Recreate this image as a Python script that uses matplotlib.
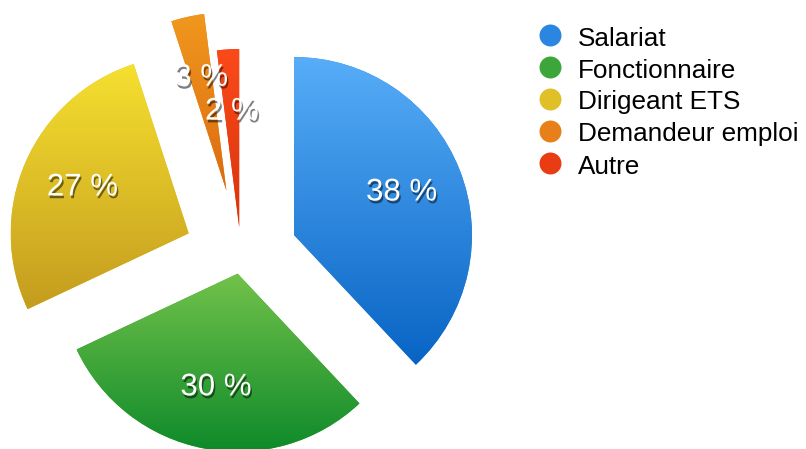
import numpy as np
import matplotlib
matplotlib.use('Agg')
import matplotlib.pyplot as plt
import matplotlib.patheffects as pe
from matplotlib.colors import to_rgb

# data
labels = ['Salariat', 'Fonctionnaire', 'Dirigeant ETS', 'Demandeur emploi', 'Autre']
values = [38, 30, 27, 3, 2]

# gradient colours per slice (top, bottom)
top_colors = ['#57adf8', '#72c24a', '#f6e030', '#f0981e', '#fb4a1a']
bottom_colors = ['#0864c4', '#0e8a2a', '#c49c1e', '#dc6a10', '#d8340c']
mid_colors = ['#2a86e0', '#3ca63a', '#e0c028', '#e8801a', '#ea3c12']

# explode offsets in pixels (one per slice)
explode = [57, 18, 57, 67, 29]

plt.rcParams['font.family'] = ['Liberation Sans', 'DejaVu Sans']

fig = plt.figure(figsize=(8.06, 4.49), dpi=100)
ax = fig.add_axes([0, 0, 1, 1])

wedges, texts, autotexts = ax.pie(values, explode=explode, center=(241, 193), radius=178,
                                  startangle=90, counterclock=False,
                                  colors=mid_colors, autopct=lambda p: f'{p:.0f} %',
                                  pctdistance=0.65, wedgeprops=dict(linewidth=0),
                                  textprops=dict(color='white', fontsize=22.5))

# vertical gradient inside each wedge
for w, c_top, c_bot in zip(wedges, top_colors, bottom_colors):
    bb = w.get_path().get_extents()
    t = np.linspace(0, 1, 256)[:, None, None]
    grad = np.array(to_rgb(c_bot))[None, None, :] * (1 - t) + np.array(to_rgb(c_top))[None, None, :] * t
    grad = np.repeat(grad, 2, axis=1)
    im = ax.imshow(grad, extent=[bb.x0, bb.x1, bb.y0, bb.y1], origin='lower',
                   interpolation='bilinear', zorder=1.5)
    im.set_clip_path(w)

for t in autotexts:
    t.set_path_effects([pe.SimplePatchShadow(offset=(1, -2), shadow_rgbFace='black', alpha=0.5),
                        pe.Normal()])
    t.set_zorder(3)

# legend drawn by hand
leg_y0 = 449 - 35
leg_dy = 32
for i, (lab, col) in enumerate(zip(labels, mid_colors)):
    y = leg_y0 - i * leg_dy
    ax.scatter([550], [y], s=250, color=col, zorder=3, linewidths=0)
    ax.text(578, y - 1, lab, fontsize=18.8, va='center_baseline', ha='left', color='black')

ax.set_xlim(0, 806)
ax.set_ylim(0, 449)
ax.set_aspect('equal')
ax.axis('off')

plt.savefig('out.png', dpi=100)
